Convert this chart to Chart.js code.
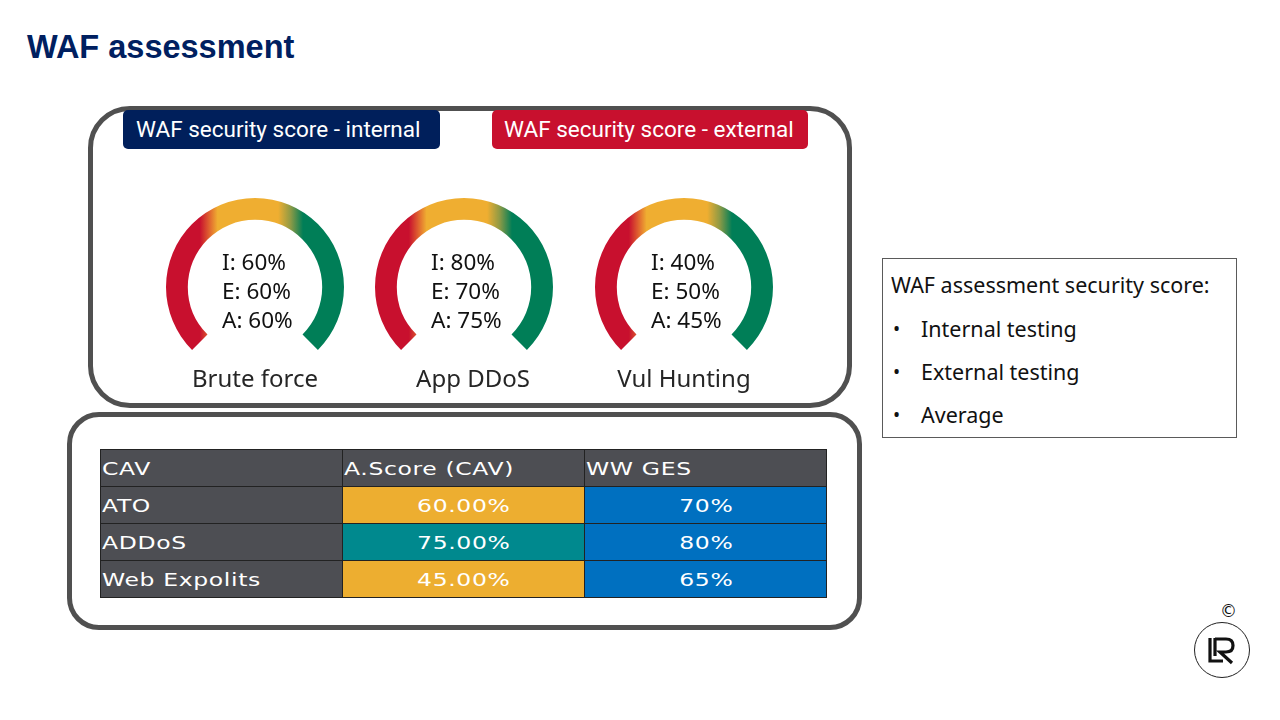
<!DOCTYPE html>
<html>
<head>
<meta charset="utf-8">
<script src="https://cdn.jsdelivr.net/npm/chart.js@4.4.1/dist/chart.umd.min.js"></script>
<style>
  html, body { margin:0; padding:0; background:#fff; }
  body { width:1280px; height:720px; position:relative; overflow:hidden; font-family:"Liberation Sans", Arial, sans-serif; }
  .abs { position:absolute; }
  #title { position:absolute; left:27px; top:29px; font-size:32.5px; font-weight:bold; color:#002060; font-family:"Liberation Sans", Arial, sans-serif; }
  .frame { position:absolute; border:5px solid #505050; box-sizing:border-box; background:transparent; }
  #frameTop { left:88px; top:106px; width:764px; height:302px; border-radius:42px; }
  #frameBot { left:67px; top:412px; width:795px; height:218px; border-radius:32px; }
  .tag { position:absolute; top:110px; height:39px; border-radius:5px; color:#fff; font-family:Roboto, sans-serif; font-size:22.5px; line-height:39px; box-sizing:border-box; padding-left:13px; white-space:nowrap; }
  #tagInt { left:123px; width:317px; background:#001F5B; }
  #tagExt { left:492px; width:316px; background:#C8102E; padding-left:12px; }
  canvas.g { position:absolute; }
  .gtext { position:absolute; font-family:"Noto Sans", sans-serif; font-size:22.5px; color:#111; line-height:29px; }
  .glabel { position:absolute; font-family:"Noto Sans", sans-serif; font-size:24px; color:#262626; width:240px; text-align:center; }
  #tbl { position:absolute; left:100px; top:449px; border-collapse:collapse; font-family:"DejaVu Sans", sans-serif; font-size:18.5px; color:#fff; letter-spacing:0.5px; }
  #tbl td { width:242px; height:37px; padding:0 0 0 1px; border:1px solid #222; box-sizing:border-box; overflow:hidden; }
  #tbl td span { display:inline-block; transform:scaleX(1.27); }
  #tbl td.l { background:#4D4E53; text-align:left; }
  #tbl td.l span { transform-origin:left center; }
  #tbl td.c { text-align:center; }
  #tbl td.c span { transform-origin:center center; }
  #legend { position:absolute; left:882px; top:258px; width:355px; height:180px; border:1px solid #5a5a5a; box-sizing:border-box; font-family:"Noto Sans", sans-serif; font-size:21.5px; color:#111; }
  #legend div { position:absolute; white-space:nowrap; }
  #legend div.b { font-size:19px; }
  #logo { position:absolute; left:1194px; top:622px; width:56px; height:56px; border:1px solid #222; border-radius:50%; box-sizing:border-box; }
</style>
</head>
<body>
<div id="title">WAF assessment</div>
<div class="frame" id="frameTop"></div>
<div class="frame" id="frameBot"></div>
<div class="tag" id="tagInt">WAF security score - internal</div>
<div class="tag" id="tagExt">WAF security score - external</div>

<div id="gauges"></div>

<table id="tbl"></table>

<div id="legend"></div>

<div class="abs" style="left:1220px; top:601px; font-family:'DejaVu Sans',sans-serif; font-size:17px; color:#111;">©</div>
<div id="logo">
  <svg width="54" height="54" viewBox="0 0 54 54">
    <path d="M15 15 L15 38 L28 38" fill="none" stroke="#111" stroke-width="3.2"/>
    <path d="M20 15 L20 33" fill="none" stroke="#111" stroke-width="3.2"/>
    <path d="M20 16 L31 16 Q38 16 38 22.5 Q38 29 31 29 L25 29 L37 40" fill="none" stroke="#111" stroke-width="3.2"/>
  </svg>
</div>

<script>
// ---- data ----
const gaugeNames = ["Brute force", "App DDoS", "Vul Hunting"];
const internalScores = [60, 80, 40];
const externalScores = [60, 70, 50];
const averageScores = [60, 75, 45];
const gaugeScale = [100];          // full gauge range 0-100%

const tableHeader = ["CAV", "A.Score (CAV)", "WW GES"];
const tableCategories = ["ATO", "ADDoS", "Web Expolits"];
const tableAScore = ["60.00%", "75.00%", "45.00%"];
const tableWWGES = ["70%", "80%", "65%"];
const aScoreColors = ["#EDAE30", "#00898E", "#EDAE30"];
const wwGesColor = "#0070C0";

const legendTitle = "WAF assessment security score:";
const legendItems = ["Internal testing", "External testing", "Average"];

// ---- layout ----
const gaugeCenters = [255, 464, 684];
const gaugeCY = 287;
const R = 89;
const labelOffsets = [0, 9, 0];

function gaugeGradient(context) {
  const chart = context.chart;
  const area = chart.chartArea;
  if (!area) return "#C8102E";
  const g = chart.ctx.createLinearGradient(area.left, 0, area.right, 0);
  g.addColorStop(0.00, "#C8102E");
  g.addColorStop(0.19, "#C8102E");
  g.addColorStop(0.245, "#E0652F");
  g.addColorStop(0.29, "#EFAE31");
  g.addColorStop(0.63, "#EFAE31");
  g.addColorStop(0.70, "#8E9A45");
  g.addColorStop(0.77, "#007E57");
  g.addColorStop(1.00, "#007E57");
  return g;
}

const container = document.getElementById("gauges");
gaugeNames.forEach((name, i) => {
  const W = 210, H = 210;
  const cv = document.createElement("canvas");
  cv.className = "g";
  cv.width = W; cv.height = H;
  cv.style.width = W + "px"; cv.style.height = H + "px";
  cv.style.left = (gaugeCenters[i] - W / 2) + "px";
  cv.style.top = (gaugeCY - R - 10) + "px";
  container.appendChild(cv);
  const chartH = 2 * R * (1 + Math.SQRT1_2) / 2;
  new Chart(cv.getContext("2d"), {
    type: "doughnut",
    data: {
      labels: [name],
      datasets: [{ data: gaugeScale, backgroundColor: gaugeGradient, borderWidth: 0, hoverOffset: 0 }]
    },
    options: {
      responsive: false,
      animation: false,
      rotation: -135,
      circumference: 270,
      cutout: "75.5%",
      layout: { padding: { left: (W - 2 * R) / 2, right: (W - 2 * R) / 2, top: 10, bottom: H - 10 - chartH } },
      plugins: { legend: { display: false }, tooltip: { enabled: false } },
      events: []
    }
  });
  const t = document.createElement("div");
  t.className = "gtext";
  t.style.left = (gaugeCenters[i] - 33) + "px";
  t.style.top = (gaugeCY - 40) + "px";
  t.innerHTML = "I: " + internalScores[i] + "%<br>E: " + externalScores[i] + "%<br>A: " + averageScores[i] + "%";
  container.appendChild(t);
  const l = document.createElement("div");
  l.className = "glabel";
  l.style.left = (gaugeCenters[i] + labelOffsets[i] - 120) + "px";
  l.style.top = "361px";
  l.textContent = name;
  container.appendChild(l);
});

// table
const tbl = document.getElementById("tbl");
let html = "<tr>" + tableHeader.map(h => '<td class="l"><span>' + h + "</span></td>").join("") + "</tr>";
tableCategories.forEach((c, i) => {
  html += '<tr><td class="l"><span>' + c + '</span></td><td class="c" style="background:' + aScoreColors[i] + '"><span>' + tableAScore[i] +
          '</span></td><td class="c" style="background:' + wwGesColor + '"><span>' + tableWWGES[i] + "</span></td></tr>";
});
tbl.innerHTML = html;

// legend
const lg = document.getElementById("legend");
const tops = [11, 55, 98, 141];
let lh = '<div style="left:8px; top:' + tops[0] + 'px">' + legendTitle + "</div>";
legendItems.forEach((it, i) => {
  lh += '<div class="b" style="left:10px; top:' + (tops[i + 1] + 2) + 'px">•</div><div style="left:38px; top:' + tops[i + 1] + 'px">' + it + "</div>";
});
lg.innerHTML = lh;
</script>
</body>
</html>
